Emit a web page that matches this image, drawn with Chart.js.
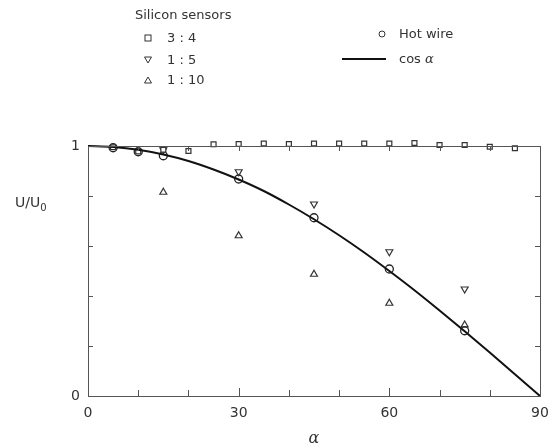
<!DOCTYPE html>
<html>
<head>
<meta charset="utf-8">
<script src="https://cdn.jsdelivr.net/npm/chart.js@4/dist/chart.umd.min.js"></script>
<style>
  body { margin: 0; background: #fff; }
  #wrap { position: relative; width: 550px; height: 448px; font-family: "DejaVu Sans", sans-serif; color: #333; }
  .lbl { position: absolute; font-size: 13px; line-height: 16px; white-space: nowrap; }
  .mk { position: absolute; }
</style>
</head>
<body>
<div id="wrap">
  <canvas id="myChart" width="550" height="448"></canvas>

  <div class="lbl" style="left:135px; top:7px;">Silicon sensors</div>
  <svg class="mk" style="left:144px; top:34px;" width="8" height="8"><rect x="1" y="1" width="6" height="6" fill="none" stroke="#333" stroke-width="1"/></svg>
  <div class="lbl" style="left:167px; top:30px;">3 : 4</div>
  <svg class="mk" style="left:144px; top:56px;" width="8" height="8"><polygon points="0.5,1 7.5,1 4,7" fill="none" stroke="#333" stroke-width="1"/></svg>
  <div class="lbl" style="left:167px; top:52px;">1 : 5</div>
  <svg class="mk" style="left:144px; top:76px;" width="8" height="8"><polygon points="0.5,7 7.5,7 4,1" fill="none" stroke="#333" stroke-width="1"/></svg>
  <div class="lbl" style="left:167px; top:72px;">1 : 10</div>

  <svg class="mk" style="left:378px; top:30px;" width="8" height="8"><circle cx="4" cy="4" r="3" fill="none" stroke="#333" stroke-width="1"/></svg>
  <div class="lbl" style="left:399px; top:26px;">Hot wire</div>
  <svg class="mk" style="left:342px; top:57px;" width="44" height="4"><line x1="0" y1="2" x2="44" y2="2" stroke="#111" stroke-width="2"/></svg>
  <div class="lbl" style="left:399px; top:51px;">cos <i style="font-family:'DejaVu Serif',serif;">α</i></div>

  <div class="lbl" style="left:15px; top:194px; font-size:14px;">U/U<sub style="font-size:10px;">0</sub></div>
</div>

<script>
// angles in degrees
const sqAngles = [5, 10, 15, 20, 25, 30, 35, 40, 45, 50, 55, 60, 65, 70, 75, 80, 85];
const sqValues = [0.995, 0.978, 0.985, 0.98, 1.007, 1.008, 1.01, 1.008, 1.01, 1.01, 1.01, 1.01, 1.012, 1.004, 1.004, 0.997, 0.991];

const invAngles = [15, 30, 45, 60, 75];
const invValues = [0.985, 0.897, 0.768, 0.577, 0.428];

const triAngles = [15, 30, 45, 60, 75];
const triValues = [0.815, 0.641, 0.487, 0.371, 0.284];

const hwAngles = [5, 10, 15, 30, 45, 60, 75];
const hwValues = [0.993, 0.977, 0.961, 0.868, 0.713, 0.508, 0.261];

// cos curve
const curveAngles = [0, 5, 10, 15, 20, 25, 30, 35, 40, 45, 50, 55, 60, 65, 70, 75, 80, 85, 90];
const curveValues = [1.0, 0.996, 0.985, 0.966, 0.94, 0.906, 0.866, 0.82, 0.766, 0.707, 0.643, 0.574, 0.5, 0.423, 0.342, 0.259, 0.174, 0.087, 0.0];

const xTickLabels = [0, 30, 60, 90];
const yTickLabels = [0, 1];

function pts(xs, ys) {
  return xs.map((x, i) => ({ x: x, y: ys[i] }));
}

// frame box with inward tick marks
const frameTicks = {
  id: "frameTicks",
  afterDraw(chart) {
    const ctx = chart.ctx;
    const { left, right, top, bottom } = chart.chartArea;
    const xs = chart.scales.x;
    const ys = chart.scales.y;
    ctx.save();
    ctx.strokeStyle = "#555";
    ctx.lineWidth = 1;
    ctx.strokeRect(left + 0.5, top + 0.5, right - left, bottom - top);
    ctx.beginPath();
    xs.ticks.forEach((t) => {
      if (t.value <= 0 || t.value >= 90) return;
      const px = Math.round(xs.getPixelForValue(t.value)) + 0.5;
      const len = t.value % 30 === 0 ? 8 : 6;
      ctx.moveTo(px, bottom);
      ctx.lineTo(px, bottom - len);
      ctx.moveTo(px, top);
      ctx.lineTo(px, top + 5);
    });
    ys.ticks.forEach((t) => {
      if (t.value <= 0.01 || t.value >= 0.99) return;
      const py = Math.round(ys.getPixelForValue(t.value)) + 0.5;
      ctx.moveTo(left, py);
      ctx.lineTo(left + 5, py);
      ctx.moveTo(right, py);
      ctx.lineTo(right - 5, py);
    });
    ctx.stroke();
    ctx.restore();
  },
};

const ctx = document.getElementById("myChart").getContext("2d");
new Chart(ctx, {
  type: "scatter",
  data: {
    datasets: [
      {
        label: "cos α",
        type: "line",
        data: pts(curveAngles, curveValues),
        borderColor: "#111",
        borderWidth: 2,
        pointRadius: 0,
        cubicInterpolationMode: "monotone",
        fill: false,
      },
      {
        label: "3:4",
        data: pts(sqAngles, sqValues),
        pointStyle: "rect",
        pointRadius: 3.5,
        borderColor: "#333",
        borderWidth: 1.2,
        backgroundColor: "#fff",
      },
      {
        label: "1:5",
        data: pts(invAngles, invValues),
        pointStyle: "triangle",
        rotation: 180,
        pointRadius: 4,
        borderColor: "#333",
        borderWidth: 1.2,
        backgroundColor: "rgba(255,255,255,0)",
      },
      {
        label: "1:10",
        data: pts(triAngles, triValues),
        pointStyle: "triangle",
        pointRadius: 4,
        borderColor: "#333",
        borderWidth: 1.2,
        backgroundColor: "rgba(255,255,255,0)",
      },
      {
        label: "Hot wire",
        data: pts(hwAngles, hwValues),
        pointStyle: "circle",
        pointRadius: 4,
        borderColor: "#222",
        borderWidth: 1.3,
        backgroundColor: "#fff",
      },
    ],
  },
  options: {
    responsive: false,
    animation: false,
    clip: false,
    layout: { padding: { top: 146, right: 10, left: 0, bottom: 0 } },
    plugins: {
      legend: { display: false },
      tooltip: { enabled: false },
    },
    scales: {
      x: {
        type: "linear",
        min: 0,
        max: 90,
        border: { display: false },
        grid: { display: false, drawTicks: false },
        ticks: {
          stepSize: 10,
          autoSkip: false,
          maxRotation: 0,
          padding: 9,
          color: "#333",
          font: { family: "DejaVu Sans", size: 14 },
          callback: (v) => (xTickLabels.includes(v) ? v : ""),
        },
        title: {
          display: true,
          text: "α",
          color: "#333",
          font: { family: "DejaVu Serif", size: 16, style: "italic" },
          padding: { top: 0, bottom: 0 },
        },
        afterFit: (scale) => {
          scale.height = 52;
          scale.paddingLeft = 0;
          scale.paddingRight = 0;
        },
      },
      y: {
        min: 0,
        max: 1,
        border: { display: false },
        grid: { display: false, drawTicks: false },
        ticks: {
          stepSize: 0.2,
          padding: 8,
          color: "#333",
          font: { family: "DejaVu Sans", size: 14 },
          callback: (v) => {
            const hit = yTickLabels.find((t) => Math.abs(t - v) < 1e-6);
            return hit !== undefined ? String(hit) : "";
          },
        },
        afterFit: (scale) => { scale.width = 88; },
      },
    },
  },
  plugins: [frameTicks],
});
</script>
</body>
</html>
